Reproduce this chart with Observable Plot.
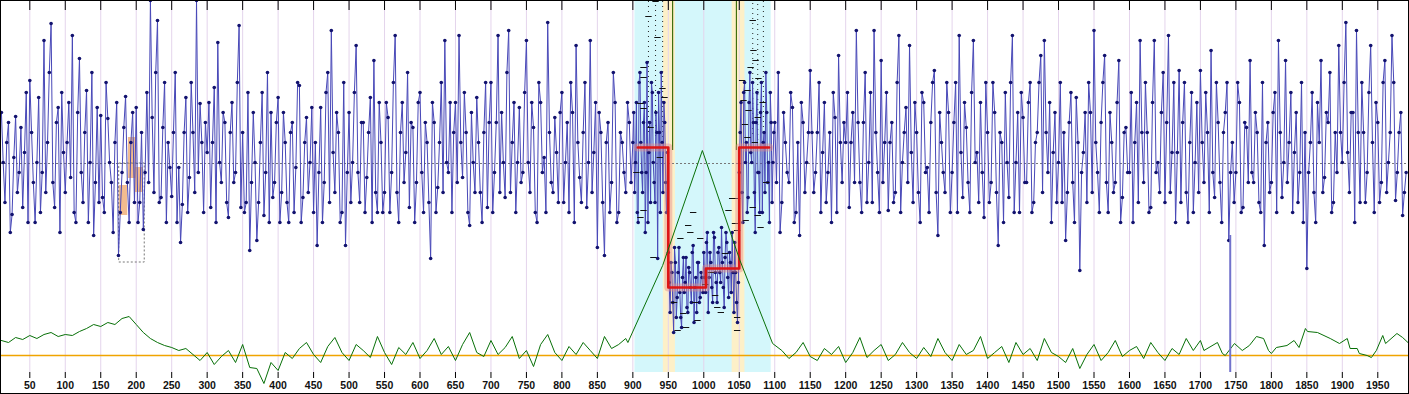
<!DOCTYPE html>
<html><head><meta charset="utf-8">
<script src="https://cdn.jsdelivr.net/npm/d3@7"></script>
<script src="https://cdn.jsdelivr.net/npm/@observablehq/plot@0.6"></script>
<style>
body{margin:0;background:#fff}
#chart{width:1409px;height:394px}
#chart svg{display:block}
</style>
</head><body><div id="chart"></div>
<script>
// ---- tick labels ----
const tickValues = [50,100,150,200,250,300,350,400,450,500,550,600,650,700,750,800,850,900,950,1000,1050,1100,1150,1200,1250,1300,1350,1400,1450,1500,1550,1600,1650,1700,1750,1800,1850,1900,1950];

// ---- main signal: samples on a 5-step grid and mid-samples (+2.5) ----
const startA = 10, stepA = 5;
const signalA = [
 260,170,250,158,256,200,165,280,
 292,190,210,160,332,230,349,165,265,280,
 180,270,337,150,314,170,282,210,137,265,
 257,160,254,190,230,117,200,276,150,260,
 265,170,143,280,372,180,352,175,290,230,
 176,300,205,168,275,195,240,372,269,160,
 220,165,285,330,190,250,155,270,200,347,
 240,170,122,260,132,230,157,300,260,190,
 275,180,230,150,250,205,287,175,255,210,
 160,127,265,190,300,342,180,240,160,127,
 260,210,327,170,250,195,275,312,160,230,
 180,255,200,337,150,270,220,165,245,190,
 280,160,230,114,250,185,290,332,200,160,
 270,337,195,240,147,210,275,180,240,165,
 290,200,337,260,175,342,230,160,265,200,
 332,180,245,150,270,215,350,190,255,170,
 280,210,160,260,327,195,240,165,332,220,
 125,240,117,250,190,270,160,230,180,250
];
const midA = [
 210,230,140,215,180,245,220,150,
 240,150,275,200,180,300,190,250,140,220,
 230,195,160,260,200,240,150,300,190,170,
 175,290,210,140,270,160,245,190,230,170,
 150,240,200,190,255,300,170,245,150,205,
 240,150,130,240,160,290,180,200,230,250,
 270,230,150,210,260,170,240,190,290,165,
 160,280,190,210,170,280,200,150,175,250,
 150,260,170,240,160,290,150,230,180,265,
 230,200,150,280,170,220,260,150,290,200,
 170,280,200,250,160,240,150,180,270,160,
 270,160,290,180,240,190,300,250,150,270,
 200,250,170,270,160,230,180,210,270,240,
 190,230,280,160,260,180,230,150,290,250,
 160,250,180,210,300,180,270,210,190,280,
 210,270,160,290,200,160,240,180,220,260,
 170,250,290,150,230,170,290,210,180,270,
 260,170,230,160,300,150,240,200,270,190
];
const startW = 900, stepW = 2.5;
const signalW = [
 230,180,270,150,300,200,250,140,310,220,170,280,190,260,114,240,300,180,250,160,
 120,60,100,40,110,75,125,55,95,80,115,60,100,70,127,85,60,110,75,95,
 120,80,140,95,110,70,135,90,120,100,145,85,115,130,75,110,140,60,100,50,
 200,270,150,290,230,175,300,210,250,140,280,200,260,160,240,300,190,150,250,210
];
const midW = [
 260,210,160,290,230,180,270,200,150,250,290,210,170,240,280,160,230,270,190,220,
 90,110,70,125,55,100,80,45,115,90,65,105,85,120,50,95,110,70,100,80,
 95,130,60,120,85,140,100,70,125,90,110,65,140,95,120,80,100,130,70,90,
 240,180,280,210,160,270,220,290,180,250,200,160,290,230,180,260,210,280,170,240
];
const startB = 1100, stepB = 5;
const signalB = [
 250,300,170,230,190,265,160,137,250,210,
 302,180,240,160,270,200,150,255,317,190,
 230,165,260,342,190,250,170,280,342,200,
 312,230,162,250,180,337,210,265,327,170,
 240,150,270,205,250,302,137,230,180,260,
 200,290,337,175,245,160,332,220,270,155,
 240,190,260,127,230,280,175,337,210,160,
 255,190,290,170,240,317,332,200,150,260,
 210,170,132,250,190,275,102,220,170,260,
 342,200,250,317,160,230,190,312,175,245,
 200,150,270,332,190,240,165,332,210,260,
 170,337,220,150,302,250,180,230,160,270,
 302,190,240,322,175,250,150,260,132,230,
 200,270,165,245,312,190,240,160,127,250,
 190,280,332,175,312,230,160,260,200,150,
 104,230,180,270,312,195,250,160,240,327,
 210,350,180,260,342,170,240,200,327,160,
 250,190,312,210,337,172,240,157,200
];
const midB = [
 190,140,260,200,280,150,230,270,180,240,
 240,200,290,220,170,240,280,160,230,250,
 280,230,190,250,160,300,210,170,240,160,
 190,280,230,170,290,160,240,190,220,270,
 180,280,200,160,290,180,260,200,290,160,
 250,160,220,270,190,280,210,170,200,290,
 170,290,180,240,150,210,290,160,260,280,
 190,270,160,230,290,180,240,270,220,170,
 290,240,180,280,150,230,200,260,290,180,
 230,160,290,190,260,180,270,150,240,200,
 280,230,170,240,290,160,270,200,180,300,
 250,180,290,220,170,290,150,280,210,180,
 230,280,160,200,290,190,240,290,200,170,
 290,160,250,190,200,260,170,290,230,180,
 260,160,240,210,190,280,220,170,290,240,
 200,280,150,230,180,260,300,170,200,240,
 290,220,260,150,240,290,170,280,230,270,
 170,290,180,240,290,200,260,180
];

// ---- lower statistic (green) ----
const startGA = 10, stepGA = 10;
const statA = [
 32,30,35,33,37,34,38,40,36,38,
 37,41,44,48,46,50,48,54,56,48,
 40,34,30,27,25,22,24,18,12,20,
 8,16,22,10,28,5,4,-11,10,2,
 20,14,24,30,18,10,26,35,20,12,
 28,22,15,36,20,8,25,18,30,14,
 22,34,18,26,12,28,40,20,16,32,
 18,25,36,14,22,6,28,38,20,12,
 26,18,30,22,14,36,24,28,34
];
const statPeakX = [893, 942, 998, 1051, 1097];
const statPeakY = [30, 107, 222, 112, 29];
const startGB = 1110, stepGB = 10;
const statB = [
 22,14,20,30,16,12,24,18,26,10,
 20,35,15,22,28,12,18,30,20,14,
 25,16,34,20,12,28,18,22,36,14,
 20,26,10,30,18,24,12,34,20,16,
 10,24,4,18,28,12,20,32,16,22,
 26,14,30,20,12,24,18,34,22,32
];
const statTailX = [1705,1724,1731,1735,1748,1759,1769,1779,1789,1796,1800,1807,1822,1832,1839,1848,1851,1865,1883,1896,1907,1911,1921,1924,1935,1941,1948,1957,1961,1977,1985,1994];
const statTailY = [22,30,19,17,29,22,27,36,34,22,19,25,27,32,25,44,41,40,34,29,34,24,24,19,17,15,22,37,29,39,35,29];

// ---- segments (change-point model) ----
const segStart = [907, 950, 1003, 1050];
const segEnd   = [950, 1003, 1050, 1092];
const segMean  = [225, 85, 104, 225];

const meanLevel = 209;
const statBaseline = 17;

// ---- regions ----
const windowRegion = [903, 1095];
const changeBandStart = [943, 1040];
const changeBandEnd   = [960, 1058];
const changeLines = [956, 1046];
const changeLineTop = 222;
const outlierX = 1742, outlierLow = 0, outlierHigh = 137;

// small highlighted boxes near 180-210
const boxX1 = [176, 189, 199];
const boxX2 = [188, 200, 210];
const boxY1 = [157, 194, 180];
const boxY2 = [187, 235, 205];
const selX = [176, 212], selY = [110, 209];

// error markers inside window
const markX = [922,934.7,915,915,910.7,915,941.7,944.6,1069,1070,1073,1066,1054,1077,1061.5,1056,1063,1076,1061.5,915,910.7,929,985,978,981,995,967,1040,1034.8,1044,1047,971,991,1019,1016,963,1047,1047,1030,1047,1069,1076,1080,1059,932,925,938,905,1088,1083,1058,1072,958,1002,1024,1010,975,988];
const markY = [356,335,305,295,269,264,284,275,352,322,312,305,292,294,282,272,262,255,235,162,155,115,160,147,140,134,134,174,162,149,142,59,52,65,77,42,42,55,119,174,165,157,145,152,371,245,215,200,190,270,248,230,70,88,60,100,45,70];
const dotLineX = [922, 932, 942, 1069, 1076, 1084];
const dotLineBottom = [240, 236, 230, 238, 232, 240];

// ---- build tables ----
const main = [
  ...signalA.map((v,i)=>({x:startA+i*stepA, y:v})),
  ...midA.map((v,i)=>({x:startA+stepA/2+i*stepA, y:v})),
  ...signalW.map((v,i)=>({x:startW+i*stepW, y:v})),
  ...midW.map((v,i)=>({x:startW+stepW/2+i*stepW, y:v})),
  ...signalB.map((v,i)=>({x:startB+i*stepB, y:v})),
  ...midB.map((v,i)=>({x:startB+stepB/2+i*stepB, y:v}))
].sort((a,b)=>a.x-b.x);
const stat = [
  ...statA.map((v,i)=>({x:startGA+i*stepGA, y:v})),
  ...statPeakX.map((x,i)=>({x, y:statPeakY[i]})),
  ...statB.map((v,i)=>({x:startGB+i*stepGB, y:v})),
  ...statTailX.map((x,i)=>({x, y:statTailY[i]}))
];
const segLine = [];
segStart.forEach((s,i)=>{ segLine.push({x:s,y:segMean[i]}); segLine.push({x:segEnd[i],y:segMean[i]}); });
const boxes = boxX1.map((x1,i)=>({x1, x2:boxX2[i], y1:boxY1[i], y2:boxY2[i]}));
const marks = markX.map((x,i)=>({x, y:markY[i]}));
const dotLines = dotLineX.map((x,i)=>({x, y1:dotLineBottom[i]}));
const bands = changeBandStart.map((s,i)=>({x1:s, x2:changeBandEnd[i]}));
const yTop = 372;

const chart = Plot.plot({
  width: 1409, height: 394,
  marginLeft: 0, marginRight: 0, marginTop: 0, marginBottom: 22,
  x: {domain: [8.7, 1994.7], axis: null},
  y: {domain: [0, yTop], axis: null},
  style: {background: "#fff", fontFamily: "'Liberation Sans', Arial, sans-serif", fontSize: "10.5px"},
  marks: [
    Plot.rect([{x1: windowRegion[0], x2: windowRegion[1]}], {x1:"x1", x2:"x2", fill:"#d4f7fb"}),
    Plot.rect(bands, {x1:"x1", x2:"x2", fill:"#fdf0c8"}),
    Plot.ruleX(tickValues, {stroke:"#e4d4ec", strokeWidth:1}),
    Plot.ruleX(changeLines, {y1: changeLineTop, y2: yTop, stroke:"#3f6f10", strokeWidth:1.2}),
    Plot.ruleY([meanLevel], {stroke:"#777", strokeDasharray:"2,2"}),
    Plot.rect(boxes, {x1:"x1", x2:"x2", y1:"y1", y2:"y2", fill:"#eea66a", fillOpacity:0.75}),
    Plot.rect([{x1:selX[0], x2:selX[1], y1:selY[0], y2:selY[1]}], {x1:"x1", x2:"x2", y1:"y1", y2:"y2", fill:"none", stroke:"#777", strokeDasharray:"2,2"}),
    Plot.ruleX(dotLines, {x:"x", y1:"y1", y2: yTop, stroke:"#222", strokeDasharray:"1,4"}),
    Plot.line(main, {x:"x", y:"y", stroke:"#4848b8", strokeWidth:1}),
    Plot.dot(main, {x:"x", y:"y", r:1.8, fill:"#12126e", stroke:"none"}),
    Plot.link(marks, {x1: d=>d.x-4.5, x2: d=>d.x+4.5, y1:"y", y2:"y", stroke:"#111", strokeWidth:1}),
    Plot.line(segLine, {x:"x", y:"y", stroke:"#e48a8a", strokeWidth:8, strokeOpacity:0.45}),
    Plot.line(segLine, {x:"x", y:"y", stroke:"#dd1515", strokeWidth:2.6}),
    Plot.ruleY([statBaseline], {stroke:"#f0a400", strokeWidth:1.4}),
    Plot.line(stat, {x:"x", y:"y", stroke:"#077007", strokeWidth:1}),
    Plot.ruleX([outlierX], {y1: outlierLow, y2: outlierHigh, stroke:"#7272cc", strokeWidth:2}),
    Plot.ruleX(tickValues, {y1: yTop-10, y2: yTop, stroke:"#000"}),
    Plot.axisX({ticks: tickValues, tickSize: 6, tickPadding: 3, tickFormat: d => String(d), fontWeight: "bold", fill:"#111", stroke:"#000"})
  ]
});
chart.style.outline = "1px solid #000";
chart.style.outlineOffset = "-1px";
document.getElementById("chart").appendChild(chart);
</script>
</body></html>
